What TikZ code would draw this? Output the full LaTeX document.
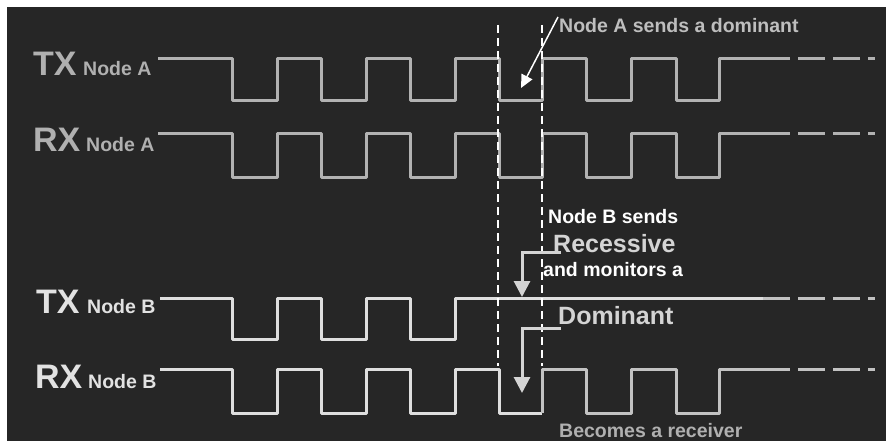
\documentclass[tikz,border=0pt]{standalone}
\usepackage{fontspec}
\setmainfont{Liberation Sans}
\usetikzlibrary{arrows.meta}
\definecolor{bg}{HTML}{262626}
\definecolor{wA}{HTML}{B2B2B2}
\definecolor{wB}{HTML}{DEDEDE}
\definecolor{wBg}{HTML}{C2C2C2}
\definecolor{tA}{HTML}{B0B0B0}
\definecolor{tB}{HTML}{E2E2E2}
\definecolor{ann}{HTML}{BEBEBE}
\definecolor{annL}{HTML}{D4D4D4}
\begin{document}
\begin{tikzpicture}[x=1pt,y=-1pt,
  big/.style={font=\fontsize{34}{36}\selectfont\bfseries, inner sep=0pt, anchor=base west},
  sm/.style={font=\fontsize{19.5}{22}\selectfont\bfseries, inner sep=0pt, anchor=base west},
  mid/.style={font=\fontsize{25}{28}\selectfont\bfseries, inner sep=0pt, anchor=base west},
  wave/.style={line width=3pt, line join=round},
  tail/.style={line width=3pt, dash pattern=on 27pt off 8pt},
  vdash/.style={white, line width=2pt, dash pattern=on 8pt off 5pt},
  thinarrow/.style={white, line width=1.5pt, -{Triangle[length=13pt,width=12pt]}},
  elbow/.style={annL, line width=3pt, -{Triangle[length=16pt,width=16pt]}}]
\useasboundingbox (0,0) rectangle (886,441);
\fill[white] (0,0) rectangle (886,441);
\fill[bg] (7,7) rectangle (886,441);

% labels
\node[big, tA] (txA) at (33,76) {TX};
\node[sm, tA] (txAn) at (83,76) {Node A};
\node[big, tA] (rxA) at (33,152) {RX};
\node[sm, tA] (rxAn) at (86,152) {Node A};
\node[big, tB] (txB) at (36,313) {TX};
\node[sm, tB] (txBn) at (87,313) {Node B};
\node[big, tB] (rxB) at (35,388) {RX};
\node[sm, tB] (rxBn) at (88,388) {Node B};

% TX Node A
\draw[wave, wA] (158,59) -- (232,59) -- (232,101) -- (277,101) -- (277,59) -- (321,59) -- (321,101) -- (366,101) -- (366,59) -- (410,59) -- (410,101) -- (455,101) -- (455,59) -- (499,59) -- (499,101) -- (542,101) -- (542,59) -- (586,59) -- (586,101) -- (631,101) -- (631,59) -- (676,59) -- (676,101) -- (719,101) -- (719,59) -- (763,59);
\draw[tail, wA] (763,59) -- (875,59);
% RX Node A
\draw[wave, wA] (158,134) -- (232,134) -- (232,177) -- (277,177) -- (277,134) -- (321,134) -- (321,177) -- (366,177) -- (366,134) -- (410,134) -- (410,177) -- (455,177) -- (455,134) -- (499,134) -- (499,177) -- (542,177) -- (542,134) -- (586,134) -- (586,177) -- (631,177) -- (631,134) -- (676,134) -- (676,177) -- (719,177) -- (719,134) -- (763,134);
\draw[tail, wA] (763,134) -- (875,134);
% TX Node B
\draw[wave, wB] (160,298) -- (232,298) -- (232,339) -- (277,339) -- (277,298) -- (321,298) -- (321,339) -- (366,339) -- (366,298) -- (410,298) -- (410,339) -- (455,339) -- (455,298) -- (763,298);
\draw[tail, wBg] (763,298) -- (875,298);
% RX Node B
\draw[wave, wB] (160,369) -- (232,369) -- (232,413) -- (277,413) -- (277,369) -- (321,369) -- (321,413) -- (366,413) -- (366,369) -- (410,369) -- (410,413) -- (455,413) -- (455,369) -- (499,369) -- (499,413) -- (542,413);
\draw[wave, wBg] (542,413) -- (542,369) -- (586,369) -- (586,413) -- (631,413) -- (631,369) -- (676,369) -- (676,413) -- (719,413) -- (719,369) -- (763,369);
\draw[tail, wBg] (763,369) -- (875,369);

% bit window
\coordinate (d1t) at (498,25);
\coordinate (d1b) at (498,366);
\coordinate (d2t) at (542,25);
\coordinate (d2b) at (542,366);
\draw[vdash] (d1t) -- (d1b);
\draw[vdash] (d2t) -- (d2b);

% annotations
\node[sm, ann] (nAs) at (559,33) {Node A sends a dominant};
\coordinate (aStart) at (558,17);
\coordinate (aTip) at (521,88);
\draw[thinarrow] (aStart) -- (aTip);

\node[sm, white] (nBs) at (548,223) {Node B sends};
\node[mid, annL] (rec) at (553,252) {Recessive};
\node[sm, white] (mon) at (543,276) {and monitors a};
\node[mid, annL] (dom) at (558,324) {Dominant};
\node[sm, tA] (recv) at (559,437) {Becomes a receiver};

\coordinate (r1s) at (561,252);
\coordinate (r1t) at (522,297);
\coordinate (r2s) at (561,328);
\coordinate (r2t) at (522,393);
\draw[elbow] (r1s) -| (r1t);
\draw[elbow] (r2s) -| (r2t);
\end{tikzpicture}
\end{document}
